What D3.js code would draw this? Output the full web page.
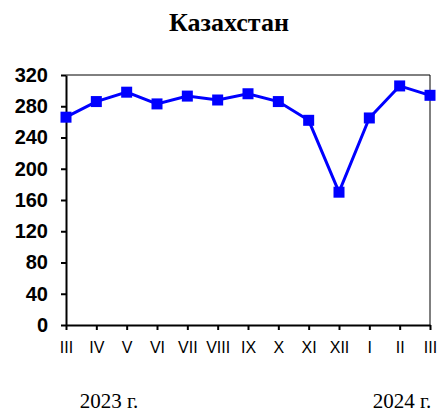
<!DOCTYPE html>
<html><head><meta charset="utf-8">
<script src="https://cdn.jsdelivr.net/npm/d3@7"></script>
<style>body{margin:0;background:#fff}svg{display:block}</style>
</head><body>
<svg id="c" width="438" height="414"></svg>
<script>
const title = "Казахстан";
const months = ["III","IV","V","VI","VII","VIII","IX","X","XI","XII","I","II","III"];
const values = [266, 286, 298, 283, 293, 288, 296, 286, 262, 170, 265, 306, 294];
const yTicks = [0,40,80,120,160,200,240,280,320];
const yearLabels = ["2023 г.","2024 г."];

const svg = d3.select("#c");
const L=66, R=430, T=75, B=325;
const x = d3.scalePoint().domain(d3.range(months.length)).range([L,R]);
const y = d3.scaleLinear().domain([0,320]).range([B,T]);

svg.append("text").attr("x",229).attr("y",31).attr("text-anchor","middle")
  .style("font-family","'Liberation Serif','Times New Roman',serif").style("font-weight","bold").style("font-size","26px")
  .text(title);

// frame top/right
svg.append("path").attr("d",`M${L},${T}H${R}V${B}`).attr("fill","none").attr("stroke","#000").attr("stroke-width",1);

const ya = svg.append("g").attr("transform",`translate(${L},0)`)
  .call(d3.axisLeft(y).tickValues(yTicks).tickSize(5).tickPadding(13).tickSizeOuter(0));
ya.select(".domain").attr("stroke-width",2);
ya.selectAll(".tick line").attr("stroke-width",2);
ya.selectAll("text").style("font-family","'Liberation Sans',Arial,sans-serif").style("font-weight","bold").style("font-size","20px").attr("fill","#000");

const xa = svg.append("g").attr("transform",`translate(0,${B})`)
  .call(d3.axisBottom(x).tickFormat(i=>months[i]).tickSize(5).tickPadding(12).tickSizeOuter(0));
xa.select(".domain").attr("stroke-width",2);
xa.selectAll(".tick line").attr("stroke-width",2);
xa.selectAll("text").style("font-family","'Liberation Sans',Arial,sans-serif").style("font-size","16px").attr("fill","#000");

const line = d3.line().x((d,i)=>x(i)).y(d=>y(d));
svg.append("path").datum(values).attr("d",line).attr("fill","none").attr("stroke","#0000ff").attr("stroke-width",3);
svg.selectAll("rect.m").data(values).join("rect").attr("class","m")
  .attr("x",(d,i)=>x(i)-5.5).attr("y",d=>y(d)-5.5).attr("width",11).attr("height",11).attr("fill","#0000ff");

svg.selectAll("text.yr").data(yearLabels).join("text").attr("class","yr")
  .attr("x",(d,i)=>i===0?109:402).attr("y",408).attr("text-anchor","middle")
  .style("font-family","'Liberation Serif','Times New Roman',serif").style("font-size","21px")
  .text(d=>d);
</script>
</body></html>
